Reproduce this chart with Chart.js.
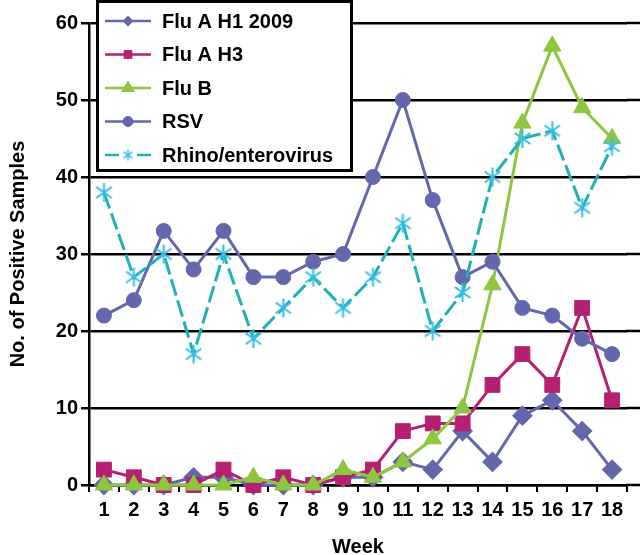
<!DOCTYPE html>
<html>
<head>
<meta charset="utf-8">
<script src="https://cdn.jsdelivr.net/npm/chart.js@4.4.0/dist/chart.umd.min.js"></script>
<style>
    html, body { margin: 0; padding: 0; background: #fff; }
    #wrap { width: 640px; height: 555px; }
</style>
</head>
<body>
<div id="wrap"><canvas id="fluChart" width="640" height="555"></canvas></div>
<script>
        const weeks = ['1', '2', '3', '4', '5', '6', '7', '8', '9', '10', '11', '12', '13', '14', '15', '16', '17', '18'];
        const fluAH1 = [0, 0, 0, 1, 1, 0, 0, 0, 1, 1, 3, 2, 7, 3, 9, 11, 7, 2];
        const fluAH3 = [2, 1, 0, 0, 2, 0, 1, 0, 1, 2, 7, 8, 8, 13, 17, 13, 23, 11];
        const fluB = [0, 0, 0, 0, 0, 1, 0, 0, 2, 1, 3, 6, 10, 26, 47, 57, 49, 45];
        const rsv = [22, 24, 33, 28, 33, 27, 27, 29, 30, 40, 50, 37, 27, 29, 23, 22, 19, 17];
        const rhino = [38, 27, 30, 17, 30, 19, 23, 27, 23, 27, 34, 20, 25, 40, 45, 46, 36, 44];

        const purple = '#6567ac';
        const magenta = '#b52070';
        const green = '#8dc63f';
        const teal = '#1fb1b4';
        const cyan = '#33bde8';
        const fontFamily = "'Liberation Sans', Arial, Helvetica, sans-serif";
        const boldFont = { family: fontFamily, weight: 'bold', size: 20 };

        // six-armed asterisk used as the rhino marker
        function asterisk(size, color, lw) {
            const c = document.createElement('canvas');
            c.width = size;
            c.height = size;
            const g = c.getContext('2d');
            g.strokeStyle = color;
            g.lineWidth = lw;
            const m = size / 2;
            const r = m - 1;
            [90, 35, 145].forEach(a => {
                const t = a * Math.PI / 180;
                g.moveTo(m + r * Math.cos(t), m - r * Math.sin(t));
                g.lineTo(m - r * Math.cos(t), m + r * Math.sin(t));
            });
            g.stroke();
            return c;
        }

        const starBig = asterisk(21, cyan, 2);
        const starSmall = asterisk(13, cyan, 1.6);

        const legendMarks = [
            { style: 'rectRot', radius: 5 },
            { style: 'rect', radius: 5.5 },
            { style: 'triangle', radius: 7 },
            { style: 'circle', radius: 5 },
            { style: starSmall, radius: 6 }
        ];

        // the horizontal rules run on to the right edge of the picture
        const gridRunOn = {
            id: 'gridRunOn',
            beforeDatasetsDraw(chart) {
                const ctx = chart.ctx;
                const y = chart.scales.y;
                ctx.save();
                ctx.strokeStyle = '#000';
                ctx.lineWidth = 2.5;
                y.ticks.forEach(t => {
                    const py = y.getPixelForValue(t.value);
                    ctx.beginPath();
                    ctx.moveTo(chart.chartArea.right - 1, py);
                    ctx.lineTo(chart.width, py);
                    ctx.stroke();
                });
                ctx.restore();
            }
        };

        const legendBox = {
            id: 'legendBox',
            afterDatasetsDraw(chart) {
                const ctx = chart.ctx;
                ctx.save();
                ctx.fillStyle = '#fff';
                ctx.fillRect(97, 1, 255, 170);
                ctx.strokeStyle = '#000';
                ctx.lineWidth = 3;
                ctx.strokeRect(97.5, 1.5, 254, 169);

                chart.data.datasets.forEach((ds, i) => {
                    const y = 21 + i * 33.5;
                    ctx.strokeStyle = ds.borderColor;
                    ctx.lineWidth = 2.5;
                    ctx.beginPath();
                    if (ds.borderDash) {
                        ctx.moveTo(105, y); ctx.lineTo(119, y);
                        ctx.moveTo(137, y); ctx.lineTo(151, y);
                    } else {
                        ctx.moveTo(105, y); ctx.lineTo(151, y);
                    }
                    ctx.stroke();

                    const mk = legendMarks[i];
                    if (typeof mk.style === 'string') {
                        ctx.fillStyle = ds.pointBackgroundColor;
                        ctx.strokeStyle = ds.pointBorderColor;
                        ctx.lineWidth = 1;
                        Chart.helpers.drawPoint(ctx, { pointStyle: mk.style, radius: mk.radius, rotation: 0, borderWidth: 1 }, 128, y);
                    } else {
                        ctx.drawImage(mk.style, 128 - mk.style.width / 2, y - mk.style.height / 2);
                    }

                    ctx.fillStyle = '#000';
                    ctx.font = 'bold 20px ' + fontFamily;
                    ctx.textBaseline = 'middle';
                    ctx.textAlign = 'left';
                    ctx.fillText(ds.label, 162, y + 1);
                });
                ctx.restore();
            }
        };

        const ctx = document.getElementById('fluChart').getContext('2d');

        const fluChart = new Chart(ctx, {
            type: 'line',
            data: {
                labels: weeks,
                datasets: [{
                    label: 'Flu A H1 2009',
                    data: fluAH1,
                    borderColor: purple,
                    backgroundColor: purple,
                    pointBackgroundColor: purple,
                    pointBorderColor: purple,
                    borderWidth: 3,
                    pointStyle: 'rectRot',
                    pointRadius: 9,
                    pointBorderWidth: 2,
                    order: 5,
                    clip: false
                }, {
                    label: 'Flu A H3',
                    data: fluAH3,
                    borderColor: magenta,
                    backgroundColor: magenta,
                    pointBackgroundColor: magenta,
                    pointBorderColor: magenta,
                    borderWidth: 3,
                    pointStyle: 'rect',
                    pointRadius: 10.5,
                    pointBorderWidth: 1,
                    order: 4,
                    clip: false
                }, {
                    label: 'Flu B',
                    data: fluB,
                    borderColor: green,
                    backgroundColor: green,
                    pointBackgroundColor: green,
                    pointBorderColor: green,
                    borderWidth: 3,
                    pointStyle: 'triangle',
                    pointRadius: 10,
                    pointBorderWidth: 1,
                    order: 3,
                    clip: false
                }, {
                    label: 'RSV',
                    data: rsv,
                    borderColor: purple,
                    backgroundColor: purple,
                    pointBackgroundColor: purple,
                    pointBorderColor: purple,
                    borderWidth: 3,
                    pointStyle: 'circle',
                    pointRadius: 7.5,
                    pointBorderWidth: 1,
                    order: 2,
                    clip: false
                }, {
                    label: 'Rhino/enterovirus',
                    data: rhino,
                    borderColor: teal,
                    backgroundColor: cyan,
                    pointBackgroundColor: cyan,
                    pointBorderColor: cyan,
                    borderWidth: 3,
                    borderDash: [17, 5],
                    pointStyle: starBig,
                    pointRadius: 10,
                    order: 1,
                    clip: false
                }]
            },
            options: {
                responsive: false,
                animation: false,
                devicePixelRatio: 1,
                layout: {
                    padding: { top: 23, right: 8, left: 0, bottom: 0 }
                },
                plugins: {
                    legend: { display: false },
                    tooltip: { enabled: false }
                },
                scales: {
                    x: {
                        type: 'category',
                        offset: true,
                        grid: { offset: true, drawOnChartArea: false, tickLength: 7, color: '#000', lineWidth: 2 },
                        border: { display: true, color: '#000', width: 2.5 },
                        ticks: { color: '#000', font: boldFont, padding: 6, maxRotation: 0, autoSkip: false },
                        title: {
                            display: true,
                            text: 'Week',
                            color: '#000',
                            font: { family: fontFamily, weight: 'bold', size: 20, lineHeight: 0.8 },
                            padding: { top: 0, bottom: 0 }
                        },
                        afterFit(scale) { scale.height = 70; }
                    },
                    y: {
                        min: 0,
                        max: 60,
                        ticks: { stepSize: 10, color: '#000', font: boldFont, padding: 3 },
                        grid: { color: '#000', lineWidth: 2.5, tickLength: 8 },
                        border: { display: true, color: '#000', width: 2.5 },
                        title: {
                            display: true,
                            text: 'No. of Positive Samples',
                            color: '#000',
                            font: { family: fontFamily, weight: 'bold', size: 20, lineHeight: 1.2 },
                            padding: { top: 6, bottom: 0 }
                        },
                        afterFit(scale) { scale.width = 89; }
                    }
                }
            },
            plugins: [gridRunOn, legendBox]
        });
</script>
</body>
</html>
